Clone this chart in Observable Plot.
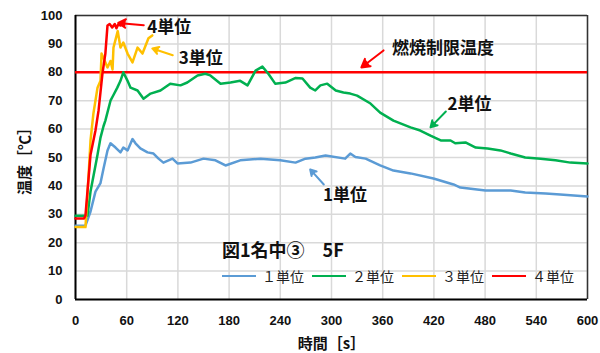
<!DOCTYPE html>
<html>
<head>
<meta charset="utf-8">
<script src="https://cdn.jsdelivr.net/npm/d3@7"></script>
<script src="https://cdn.jsdelivr.net/npm/@observablehq/plot@0.6"></script>
<style>
  body { margin:0; background:#fff; }
  #wrap { position:relative; width:600px; height:353px; font-family:"Noto Sans CJK JP", sans-serif; }
  #legend { position:absolute; left:222px; top:266px; display:flex; align-items:center; font-size:14px; color:#222; white-space:nowrap; }
  #legend .sw { display:inline-block; width:34px; height:0; border-top:2.5px solid; margin-right:6px; }
  #legend .it { display:flex; align-items:center; margin-right:8px; }
  #title { position:absolute; left:222px; top:236px; font-size:18px; font-weight:bold; color:#111; white-space:nowrap; }
</style>
</head>
<body>
<div id="wrap">
  <div id="chart"></div>
  <div id="title"></div>
  <div id="legend"></div>
</div>
<script>
// ---- data ----
const seriesNames = ["１単位", "２単位", "３単位", "４単位"];
const seriesColors = ["#5b9bd5", "#00b050", "#ffc000", "#ff0000"];

const time1 = [0, 8, 11.7, 17.6, 23.4, 29.3, 32.8, 37.5, 41, 46.9, 52.7, 56, 61, 66.8, 70.3, 76, 84.4, 91.4, 97.3, 103, 113.7, 119.5, 134.8, 150, 164, 175.8, 193, 216.8, 240, 257.8, 269.5, 281, 293, 316, 322, 328, 340, 357, 372.6, 392.6, 419.5, 443, 451, 480.5, 510, 527, 551, 568, 600];
const temp1 = [26, 26, 26, 31, 38, 41, 46, 52.5, 55, 53.5, 51.8, 53.5, 52.5, 56.5, 55, 53.2, 51.8, 51.4, 49.6, 48.2, 49.6, 47.9, 48.2, 49.6, 49, 47.2, 49, 49.6, 49, 48.2, 49.6, 50, 50.7, 49.6, 51.4, 50.2, 49.6, 47.2, 45.4, 44.4, 42.6, 40.5, 39.4, 38.4, 38.4, 37.7, 37.3, 37, 36.3];

const time2 = [0, 14, 17.6, 25.8, 29.3, 32.8, 35, 41, 44.5, 49, 52.7, 56, 61, 64.5, 72.7, 79.7, 88, 99.6, 111, 123, 131, 143, 152, 158, 170, 181.6, 193, 201.6, 211, 219, 226, 234, 246, 258, 266, 275, 281, 287, 295, 305, 314, 322, 330, 345.7, 357, 372.6, 392.6, 404, 416, 428, 439.5, 445, 457, 469, 483, 498, 510, 527, 545, 562.5, 580, 600];
const temp2 = [29.5, 29.5, 38, 51, 57, 61, 63, 70, 72, 74.6, 77, 80, 77, 74.6, 73.6, 70.7, 72.5, 73.6, 76, 75.4, 76.4, 78.9, 79.5, 78.9, 76, 76.4, 77, 75.4, 80.6, 82, 79.5, 76, 76.4, 78, 77.8, 74.6, 73.6, 75.4, 76, 73.6, 72.9, 72.5, 71.8, 69, 65.8, 63, 60.6, 59.5, 57.7, 56, 56, 55, 55.3, 53.5, 53.2, 52.5, 51.4, 50, 49.6, 49, 48.2, 47.9];

const time3 = [0, 11.7, 15.2, 17.6, 21, 25.8, 29.3, 30.5, 32.8, 37.5, 41, 43.4, 44.5, 49.5, 52.7, 56, 61, 66.8, 72.7, 78.5, 85.5, 90];
const temp3 = [25.5, 25.5, 43, 56, 65.5, 74.6, 77, 86.6, 85, 81.7, 84, 81, 88.7, 94.5, 88.7, 90.5, 86.6, 83.5, 88.7, 86.6, 92, 93];

const time4 = [0, 10, 11.7, 17.6, 23.4, 27, 31.6, 35, 37.5, 40, 43, 46, 48, 50, 53];
const temp4 = [28.5, 28.5, 29.6, 51, 59.5, 66.5, 79.6, 86.6, 96.5, 97, 95.8, 97, 95.5, 96.8, 96.5];

const limitTemp = 80;
const limitLabel = "燃焼制限温度";

const xTicks = [0, 60, 120, 180, 240, 300, 360, 420, 480, 540, 600];
const yTicks = [0, 10, 20, 30, 40, 50, 60, 70, 80, 90, 100];

const chartTitle = "図1名中③　5F";
const xLabel = "時間［s］";
const yLabel = "温度［℃］";

// annotation labels (data coordinates)
const annLabels = ["4単位", "3単位", limitLabel, "2単位", "1単位"];
const annX = [84, 121, 371, 436, 290];
const annY = [95.8, 84.9, 88.4, 68.7, 36.6];
const annColors = ["#ff0000", "#ffc000", "#ff0000", "#00b050", "#5b9bd5"];
const arrX1 = [80, 114, 361, 434, 291];
const arrY1 = [96.6, 86, 87.7, 66.2, 40.5];
const arrX2 = [50, 90, 335, 416, 275];
const arrY2 = [97.4, 88.4, 81.7, 60.6, 45.8];

// ---- build ----
const times = [time1, time2, time3, time4];
const temps = [temp1, temp2, temp3, temp4];
const rows = [];
seriesNames.forEach((s, i) => times[i].forEach((t, j) => rows.push({series: s, t, v: temps[i][j]})));
const anns = annLabels.map((l, i) => ({l, x: annX[i], y: annY[i], c: annColors[i], x1: arrX1[i], y1: arrY1[i], x2: arrX2[i], y2: arrY2[i]}));

const bold = "bold";
const plot = Plot.plot({
  width: 600, height: 353,
  marginLeft: 75, marginRight: 13, marginTop: 15, marginBottom: 54,
  style: {fontFamily: "'Liberation Sans', 'Noto Sans CJK JP', sans-serif", fontSize: "13px", color: "#111", background: "#fff"},
  x: {domain: [0, 600]},
  y: {domain: [0, 100]},
  marks: [
    Plot.gridX(xTicks, {stroke: "#d9d9d9", strokeOpacity: 1, strokeWidth: 1.5}),
    Plot.gridY(yTicks, {stroke: "#d9d9d9", strokeOpacity: 1, strokeWidth: 1.5}),
    Plot.ruleY([100], {stroke: "#333", strokeWidth: 1.5}),
    Plot.ruleX([600], {stroke: "#333", strokeWidth: 1.5}),
    Plot.ruleX([0], {stroke: "#000", strokeWidth: 2}),
    Plot.ruleY([0], {stroke: "#000", strokeWidth: 2}),
    Plot.ruleY([limitTemp], {stroke: "#ff0000", strokeWidth: 2.5}),
    Plot.line(rows, {x: "t", y: "v", z: "series", stroke: "series", strokeWidth: 2.5, strokeLinejoin: "round"}),
    Plot.arrow(anns, {x1: "x1", y1: "y1", x2: "x2", y2: "y2", stroke: "c", strokeWidth: 2, headLength: 9, headAngle: 60}),
    Plot.text(anns, {x: "x", y: "y", text: "l", textAnchor: "start", fontSize: 17, fontWeight: bold, fill: "#111", fontFamily: "'Noto Sans CJK JP', sans-serif"}),
    Plot.axisX(xTicks, {tickSize: 0, tickPadding: 16, fontWeight: bold, fontSize: 13, label: xLabel, labelAnchor: "center", labelArrow: "none", labelOffset: 49}),
    Plot.axisY(yTicks, {tickSize: 0, tickPadding: 13, fontWeight: bold, fontSize: 13, label: yLabel, labelAnchor: "center", labelArrow: "none", labelOffset: 56})
  ],
  color: {domain: seriesNames, range: seriesColors}
});
document.getElementById("chart").appendChild(plot);

// style axis labels
d3.select(plot).selectAll("[aria-label$='axis label'] text, [aria-label$='axis label']").attr("font-family", "'Noto Sans CJK JP', sans-serif").attr("font-weight", "bold").attr("font-size", 15);
// filled arrow heads (same colour as the arrow)
d3.select(plot).selectAll("[aria-label='arrow'] path").each(function() {
  const s = this.getAttribute("stroke");
  if (s) this.setAttribute("fill", s);
});

document.getElementById("title").textContent = chartTitle;
const lg = document.getElementById("legend");
seriesNames.forEach((s, i) => {
  const it = document.createElement("span"); it.className = "it";
  const sw = document.createElement("span"); sw.className = "sw"; sw.style.borderColor = seriesColors[i];
  it.appendChild(sw); it.appendChild(document.createTextNode(s));
  lg.appendChild(it);
});
</script>
</body>
</html>
